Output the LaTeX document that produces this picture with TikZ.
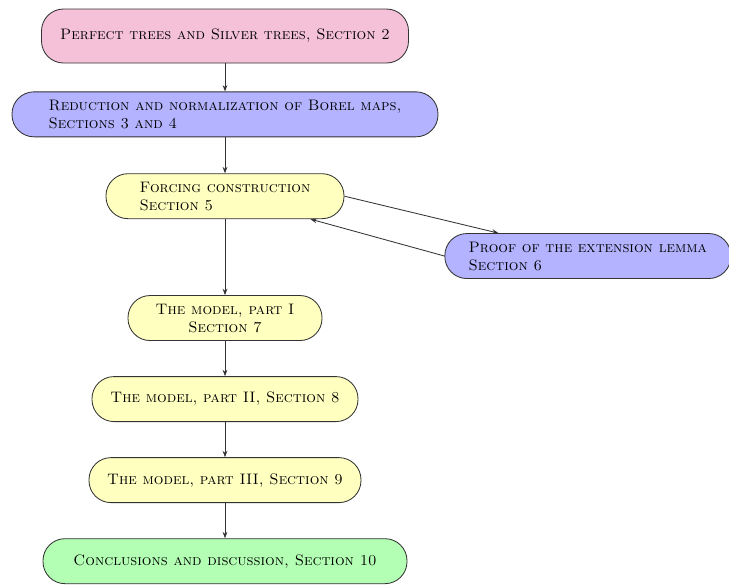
\documentclass[tikz,border=0pt]{standalone}
\usepackage{tikz}
\usetikzlibrary{arrows.meta,positioning}
\definecolor{pinkfill}{HTML}{F5C1D9}
\definecolor{bluefill}{HTML}{B3B3FF}
\definecolor{yellowfill}{HTML}{FFFFC0}
\definecolor{greenfill}{HTML}{B3FFB3}
\definecolor{edge}{HTML}{333333}

\begin{document}
\begin{tikzpicture}[
  sect/.style={draw=edge,line width=0.6pt,rounded corners=5.5mm,minimum height=11.25mm,align=left,font=\fontsize{10.8pt}{12.8pt}\selectfont\scshape,inner xsep=0pt},
  arrow/.style={-{Stealth[length=1.6mm,width=1.2mm]},line width=0.6pt,draw=edge},
  node distance=9mm
]
  \useasboundingbox (0,0) rectangle (18.225,-14.6);
  \node[sect,fill=pinkfill,minimum width=9.175cm,minimum height=13.5mm] (trees) at (5.625,-0.9) {Perfect trees and Silver trees, Section 2};
  \node[sect,fill=bluefill,minimum width=10.65cm,below=7mm of trees] (borel) {Reduction and normalization of Borel maps,\\Sections 3 and 4};
  \node[sect,fill=yellowfill,minimum width=5.95cm,below=of borel] (forcing) {Forcing construction\\Section 5};
  \node[sect,fill=bluefill,minimum width=7.15cm,below right=3.5mm and 25mm of forcing] (lemma) {Proof of the extension lemma\\Section 6};
  \node[sect,fill=yellowfill,minimum width=4.85cm,align=center,below=19mm of forcing] (model1) {The model, part I\\Section 7};
  \node[sect,fill=yellowfill,minimum width=6.65cm,below=8.8mm of model1] (model2) {The model, part II, Section 8};
  \node[sect,fill=yellowfill,minimum width=6.8cm,below=8.8mm of model2] (model3) {The model, part III, Section 9};
  \node[sect,fill=greenfill,minimum width=9.1cm,below=8.8mm of model3] (concl) {Conclusions and discussion, Section 10};

  \draw[arrow] (trees) -- (borel);
  \draw[arrow] (borel) -- (forcing);
  \draw[arrow] (forcing.east) -- ([xshift=13.5mm]lemma.north west);
  \draw[arrow] (lemma.west) -- ([xshift=-8.5mm]forcing.south east);
  \draw[arrow] (forcing) -- (model1);
  \draw[arrow] (model1) -- (model2);
  \draw[arrow] (model2) -- (model3);
  \draw[arrow] (model3) -- (concl);
\end{tikzpicture}
\end{document}
